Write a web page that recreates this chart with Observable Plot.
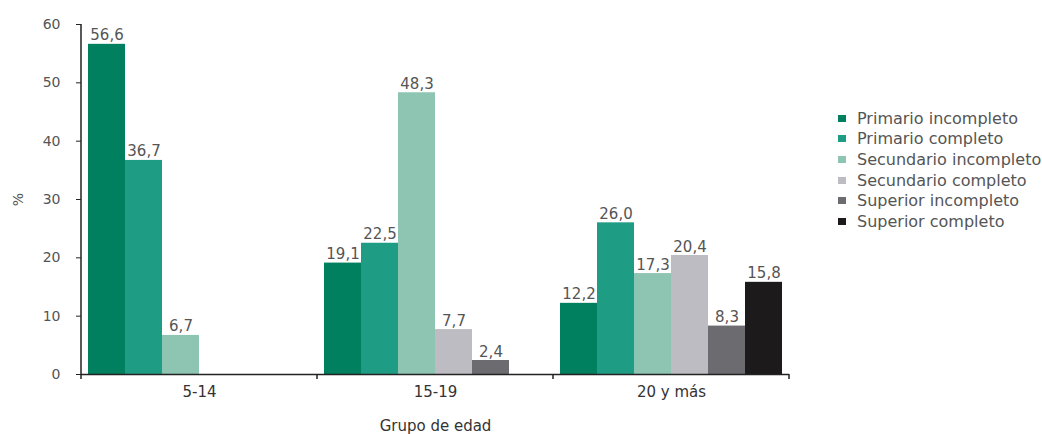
<!DOCTYPE html>
<html><head><meta charset="utf-8">
<script src="https://cdn.jsdelivr.net/npm/d3@7"></script>
<script src="https://cdn.jsdelivr.net/npm/@observablehq/plot@0.6"></script>
<style>
body{margin:0;background:#fff;font-family:"DejaVu Sans",sans-serif;overflow:hidden;}
#wrap{position:relative;width:1042px;height:434px;}
#legend{position:absolute;left:838px;top:108px;font-size:16px;color:#555;}
.item{display:flex;align-items:center;height:20.6px;white-space:nowrap;}
.sw{width:8px;height:7px;margin-right:11px;flex:none;}
</style></head><body><div id="wrap"><div id="legend"></div></div>
<script>
const groups = ["5-14", "15-19", "20 y más"];
const levels = ["Primario incompleto", "Primario completo", "Secundario incompleto", "Secundario completo", "Superior incompleto", "Superior completo"];
const colors = ["#00805f", "#1f9c84", "#8ec4b2", "#bdbcc3", "#6b6b70", "#1c1a1b"];
const v5_14 = [56.6, 36.7, 6.7, null, null, null];
const v15_19 = [19.1, 22.5, 48.3, 7.7, 2.4, null];
const v20ymas = [12.2, 26.0, 17.3, 20.4, 8.3, 15.8];
const yTicks = [0, 10, 20, 30, 40, 50, 60];

const rows = [];
[v5_14, v15_19, v20ymas].forEach((vals, gi) => vals.forEach((v, li) => {
  if (v != null) rows.push({group: groups[gi], level: levels[li], value: v});
}));
const fmt = v => d3.format(".1f")(v).replace(".", ",");

const plot = Plot.plot({
  width: 1042, height: 434,
  marginLeft: 80, marginRight: 252, marginTop: 24, marginBottom: 60,
  style: {fontFamily: "DejaVu Sans, sans-serif", fontSize: "15px", color: "#555", background: "#fff"},
  fx: {domain: groups, padding: 0},
  x: {domain: levels, paddingInner: 0, paddingOuter: 0.17, axis: null},
  y: {domain: [0, 60]},
  color: {domain: levels, range: colors},
  marks: [
    Plot.axisY({ticks: yTicks, tickSize: 5, tickPadding: 16, stroke: "#222", label: "%", labelAnchor: "center", labelArrow: "none", labelOffset: 68, fontSize: 14}),
    Plot.axisFx({anchor: "bottom", tickSize: 0, tickPadding: 12, label: "Grupo de edad", labelAnchor: "center", labelArrow: "none", labelOffset: 56, fontSize: 15, color: "#333"}),
    Plot.barY(rows, {fx: "group", x: "level", y: "value", fill: "level"}),
    Plot.text(rows, {fx: "group", x: "level", y: "value", text: d => fmt(d.value), lineAnchor: "bottom", dy: -4, fill: "#555", fontSize: 15}),
    Plot.ruleY([0], {stroke: "#222", strokeWidth: 1.5})
  ]
});
document.getElementById("wrap").prepend(plot);

// axis line and group boundary ticks from the library's scales
const fxs = plot.scale("fx"), ys = plot.scale("y");
const bounds = groups.map(g => fxs.apply(g));
bounds.push(fxs.apply(groups[groups.length - 1]) + fxs.bandwidth);
const svg = d3.select(plot);
svg.append("line").attr("x1", bounds[0]).attr("x2", bounds[0])
  .attr("y1", ys.apply(60)).attr("y2", ys.apply(0)).attr("stroke", "#222").attr("stroke-width", 1.5);
svg.selectAll("line.bt").data(bounds).join("line").attr("class", "bt")
  .attr("x1", d => d).attr("x2", d => d)
  .attr("y1", ys.apply(0)).attr("y2", ys.apply(0) + 5).attr("stroke", "#222").attr("stroke-width", 1.5);

const legend = d3.select("#legend");
levels.forEach((l, i) => {
  const it = legend.append("div").attr("class", "item");
  it.append("div").attr("class", "sw").style("background", colors[i]);
  it.append("span").text(l);
});
</script></body></html>
